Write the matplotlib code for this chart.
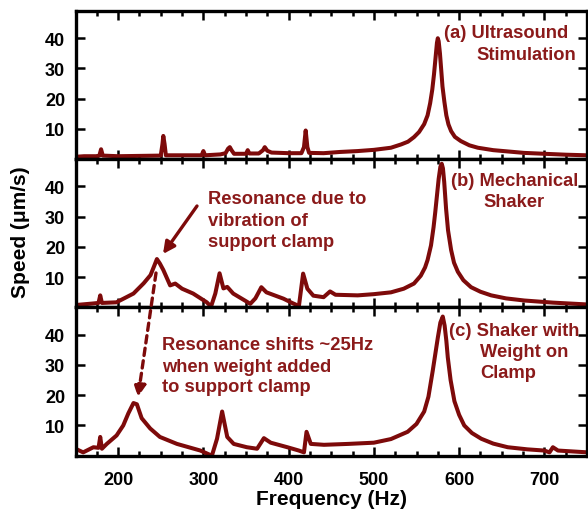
import matplotlib
matplotlib.use("Agg")
import matplotlib.pyplot as plt
from matplotlib.ticker import MultipleLocator, FixedLocator

plt.rcParams['font.family'] = ['Liberation Sans', 'DejaVu Sans']
plt.rcParams['font.weight'] = 'bold'

# ---- data (Hz, um/s) ----
freq_a = [150, 160, 175, 178, 180, 182, 200, 225, 250, 252, 253, 254.5, 256, 275, 298, 300, 302,
          320, 326, 329, 331, 333, 336, 350, 352, 354, 365, 370, 372, 375, 380, 400, 415, 418, 420,
          422, 424, 441, 460, 481, 500, 520, 532, 540, 547, 553, 559, 563, 566, 568.5, 570.5, 572.5,
          574, 575, 576, 577.5, 579, 580.5, 582.7, 585, 587.5, 590.6, 595, 602, 612, 622, 640, 660,
          676, 700, 725, 750]
speed_a = [0.8, 1.0, 1.0, 1.2, 3.3, 1.2, 1.0, 1.1, 1.2, 5.0, 7.7, 5.0, 1.3, 1.3, 1.3, 2.7, 1.3,
           1.6, 2.0, 3.5, 4.0, 3.0, 1.8, 1.8, 3.0, 1.9, 1.9, 3.0, 4.0, 2.8, 2.2, 2.0, 2.0, 4.0, 9.5,
           4.0, 2.1, 2.0, 2.4, 2.7, 3.1, 3.8, 4.9, 5.8, 7.3, 9.0, 11.6, 14.5, 18.5, 23.0, 28.0, 34.0,
           38.5, 40.0, 39.0, 35.0, 29.5, 24.0, 19.0, 14.5, 11.5, 9.3, 7.4, 6.0, 4.6, 3.8, 3.0, 2.5,
           2.1, 1.8, 1.5, 1.3]

freq_b = [150, 170, 177, 179, 181, 198, 218, 230, 238, 242, 245.5, 249, 253, 261, 267, 275, 288,
          304, 309, 314, 319, 323.5, 328, 335, 351, 355, 361, 365, 368, 374, 394, 404, 408, 412, 417,
          422, 429, 441, 448.6, 455, 481, 500, 520, 535, 547, 555, 560, 563, 567, 570, 572, 574, 576,
          578, 579.6, 581, 582.5, 584.7, 587, 590.6, 594, 598.5, 605, 614, 625, 637.6, 655, 676.5,
          710, 750]
speed_b = [0.8, 1.3, 1.5, 4.0, 1.5, 1.7, 4.6, 8.0, 10.7, 13.5, 16.0, 14.5, 12.4, 7.3, 7.9, 6.2, 4.6,
           1.7, 0.3, 4.6, 11.3, 6.3, 6.8, 4.6, 1.9, 1.2, 3.0, 5.1, 6.7, 5.0, 2.9, 1.5, 1.0, 0.3, 11.2,
           6.2, 3.9, 3.4, 5.3, 4.2, 4.0, 4.4, 5.0, 6.2, 7.9, 10.5, 13.2, 15.7, 20.5, 26.5, 31.5, 37.0,
           42.5, 46.5, 47.5, 46.0, 41.5, 32.6, 25.5, 19.0, 14.8, 11.8, 9.0, 6.7, 5.2, 4.0, 3.0, 2.3,
           1.6, 1.0]

freq_c = [150, 159, 171, 177, 179, 181, 186.7, 198.2, 206, 212, 218, 222, 227.6, 237.6, 249, 269,
          296.5, 310, 316, 322, 328, 335.6, 351, 363, 371, 379, 398.5, 412, 418, 421, 426, 441.5,
          470, 500, 520, 539.6, 550, 559, 564, 569, 572, 575, 578, 580.8, 583, 585, 586.7, 590,
          594.5, 600, 606, 615, 626, 640, 657, 680, 700, 706, 710, 716, 751]
speed_c = [2.3, 1.1, 2.8, 2.6, 6.2, 2.3, 3.9, 6.7, 10.0, 14.0, 17.4, 17.0, 12.4, 9.0, 6.2, 3.9,
           1.7, 0.0, 5.6, 14.6, 6.2, 3.9, 2.8, 2.3, 5.8, 4.3, 2.8, 1.7, 1.1, 7.9, 3.9, 3.6,
           3.9, 4.3, 5.5, 7.9, 10.5, 14.6, 19.5, 28.0, 33.5, 39.0, 44.0, 46.0, 43.0, 38.0, 32.5, 25.0,
           18.0, 13.5, 10.0, 7.5, 5.6, 4.0, 2.8, 2.1, 1.7, 1.1, 2.8, 1.7, 1.1]

x_ticks = [200, 300, 400, 500, 600, 700]
y_ticks = [10, 20, 30, 40]

line_color = '#7d0a0a'
text_color = '#8b1a1a'

W, H = 588, 510
fig = plt.figure(figsize=(W / 100, H / 100), dpi=100)
left, right, top, bottom = 75.5 / W, 587.0 / W, 1 - 12 / H, 1 - 456.7 / H
gs = fig.add_gridspec(3, 1, left=left, right=right, top=top, bottom=bottom, hspace=0)
axes = [fig.add_subplot(gs[i]) for i in range(3)]

for ax, fx, sy in zip(axes, [freq_a, freq_b, freq_c], [speed_a, speed_b, speed_c]):
    ax.plot(fx, sy, color=line_color, lw=2.9, solid_joinstyle='round')
    ax.set_xlim(150, 750)
    ax.set_ylim(0, 49)
    ax.xaxis.set_major_locator(FixedLocator(x_ticks))
    ax.xaxis.set_minor_locator(MultipleLocator(25))
    ax.yaxis.set_major_locator(FixedLocator(y_ticks))
    ax.tick_params(axis='both', which='both', direction='in', top=True, right=True, width=1.8)
    ax.tick_params(axis='both', which='major', length=6.5, labelsize=13)
    ax.tick_params(axis='y', which='major', pad=7.5)
    ax.tick_params(axis='x', which='major', pad=11)
    ax.tick_params(axis='both', which='minor', length=3.5)
    for s in ax.spines.values():
        s.set_linewidth(2.4)
    for lab in ax.get_yticklabels():
        lab.set_fontweight('bold')
    if ax is not axes[-1]:
        ax.tick_params(axis='x', labelbottom=False)

for lab in axes[-1].get_xticklabels():
    lab.set_fontweight('bold')

fig.text(332 / W, 1 - 500 / H, 'Frequency (Hz)', ha='center', va='center', fontsize=15,
         fontweight='bold')
fig.text(20 / W, 1 - 232 / H, 'Speed (\u03bcm/s)', ha='center', va='center', rotation=90,
         fontsize=15, fontweight='bold')


def ftxt(x, y, s):
    fig.text(x / W, 1 - y / H, s, ha='left', va='center', fontsize=13.2, fontweight='bold',
             color=text_color)


ftxt(444, 33, '(a) Ultrasound')
ftxt(476, 55, 'Stimulation')
ftxt(451, 182, '(b) Mechanical')
ftxt(483, 203, 'Shaker')
ftxt(449, 332, '(c) Shaker with')
ftxt(480, 353, 'Weight on')
ftxt(480, 374, 'Clamp')
ftxt(208, 200, 'Resonance due to')
ftxt(208, 222, 'vibration of')
ftxt(208, 243, 'support clamp')
ftxt(162, 346, 'Resonance shifts ~25Hz')
ftxt(162, 367, 'when weight added')
ftxt(162, 388, 'to support clamp')

fig.add_artist(plt.Annotation('', xy=(163 / W, 1 - 255 / H), xytext=(197 / W, 1 - 207 / H),
                              xycoords='figure fraction', textcoords='figure fraction',
                              arrowprops=dict(arrowstyle='-|>,head_length=0.7,head_width=0.35',
                                              color=line_color, lw=2.4, shrinkA=0, shrinkB=0)))
fig.add_artist(plt.Annotation('', xy=(138 / W, 1 - 398 / H), xytext=(156 / W, 1 - 274 / H),
                              xycoords='figure fraction', textcoords='figure fraction',
                              arrowprops=dict(arrowstyle='-|>,head_length=0.7,head_width=0.35',
                                              color=line_color, lw=2.4, linestyle=(0, (2.2, 1.6)),
                                              shrinkA=0, shrinkB=0)))

fig.savefig('out.png', dpi=100)
